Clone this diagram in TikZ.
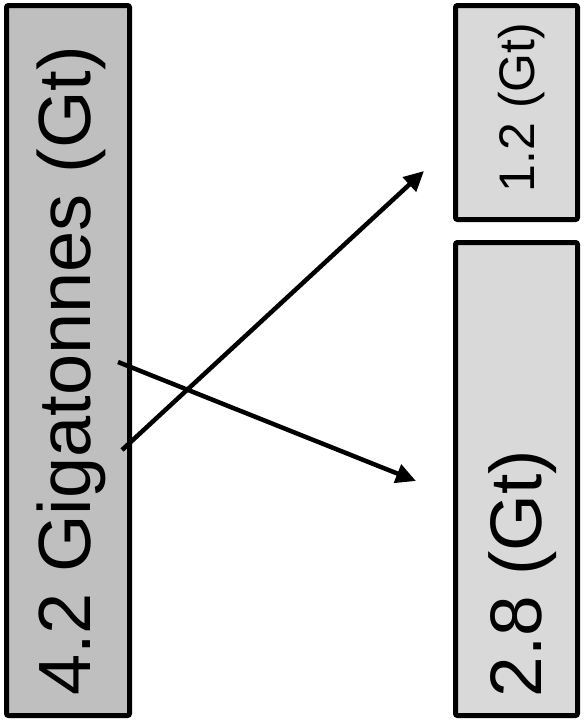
\documentclass[tikz,border=0pt]{standalone}
\usepackage{fontspec}
\setmainfont{Liberation Sans}
\usetikzlibrary{arrows.meta}

\tikzset{
  gtbox/.style={draw=black, line width=5pt, rounded corners=2pt, rotate=90, inner sep=0pt},
  flow/.style={line width=4.5pt, -{Triangle[length=20pt,width=19pt]}}
}

\begin{document}
\begin{tikzpicture}[x=1pt,y=-1pt]
        \useasboundingbox (0,0) rectangle (586,721);
        % source and the two parts
        \node[gtbox, fill=black!25, minimum width=710, minimum height=123, text height=54pt, text depth=9.5pt] (total) at (68,360.5)
             {\fontsize{74}{80}\selectfont 4.2 Gigatonnes (Gt)\hspace*{21pt}};
        \node[gtbox, fill=black!15, minimum width=214, minimum height=122, text height=36.5pt, text depth=0.5pt] (upper) at (516.5,112.5)
             {\fontsize{50}{56}\selectfont\hspace*{10pt}1.2 (Gt)};
        \node[gtbox, fill=black!15, minimum width=473, minimum height=122, text height=53.3pt, text depth=3.3pt] (lower) at (516.5,479)
             {\fontsize{73}{80}\selectfont 2.8 (Gt)\hspace*{189pt}};
        % arrows
        \coordinate (s1) at (122,450);
        \coordinate (s2) at (118,362);
        \coordinate (e1) at (424,171);
        \coordinate (e2) at (416,481);
        \draw[flow] (s1)--(e1);
        \draw[flow] (s2)--(e2);
    \end{tikzpicture}
\end{document}
